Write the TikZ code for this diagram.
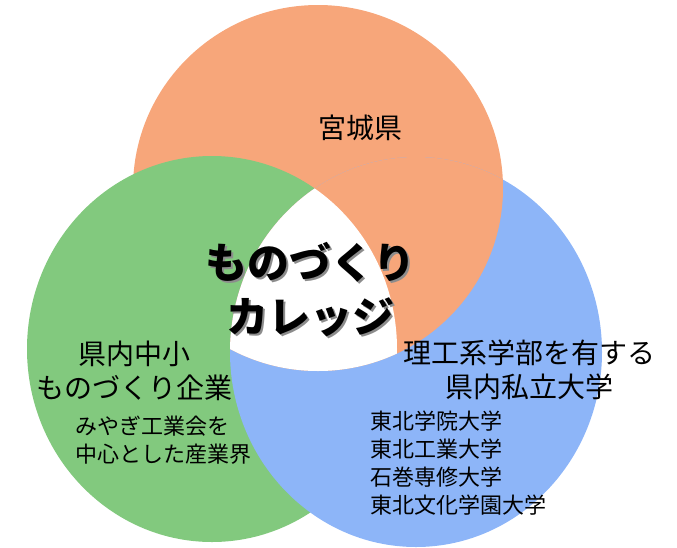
\documentclass[tikz,border=0pt]{standalone}
\usepackage{fontspec}
\setmainfont{Noto Sans CJK JP}
\definecolor{prefcol}{RGB}{247,166,122}
\definecolor{firmcol}{RGB}{130,201,126}
\definecolor{univcol}{RGB}{141,181,248}
\def\prefring{(318,188) ellipse [x radius=185pt, y radius=183pt]}
\def\firmring{(212,349) ellipse [x radius=185pt, y radius=193pt]}
\def\univring{(416,352) ellipse [x radius=186pt, y radius=195pt]}
\begin{document}
\begin{tikzpicture}[x=1pt, y=-1pt,
  big/.style={font=\fontsize{28}{34}\selectfont, align=center, inner sep=0pt},
  small/.style={font=\fontsize{22}{28}\selectfont, align=left, anchor=west, inner sep=0pt},
  title/.style={font=\fontsize{42}{54}\selectfont\bfseries, align=center, inner sep=0pt}]
\useasboundingbox (0,0) rectangle (677,547);
% three rings
\fill[prefcol] \prefring;
\fill[firmcol] \firmring;
\fill[univcol] \univring;
\begin{scope} \clip \prefring; \fill[prefcol] \univring; \end{scope}
\begin{scope} \clip \prefring; \clip \firmring; \fill[white] \univring; \end{scope}
% labels
\draw(360,128) node[big] (pref) {宮城県};
\draw(134,371) node[big] (firm) {県内中小\\ものづくり企業};
\draw(75,440) node[small] (ind) {みやぎ工業会を\\中心とした産業界};
\draw(529,370) node[big] (univ) {理工系学部を有する\\県内私立大学};
\draw(370,463) node[small] (list) {東北学院大学\\東北工業大学\\石巻専修大学\\東北文化学園大学};
\draw(312,292) node[title, text=black!45] (shade) {ものづくり\\カレッジ};
\draw(310,290) node[title] (college) {ものづくり\\カレッジ};
\end{tikzpicture}
\end{document}
